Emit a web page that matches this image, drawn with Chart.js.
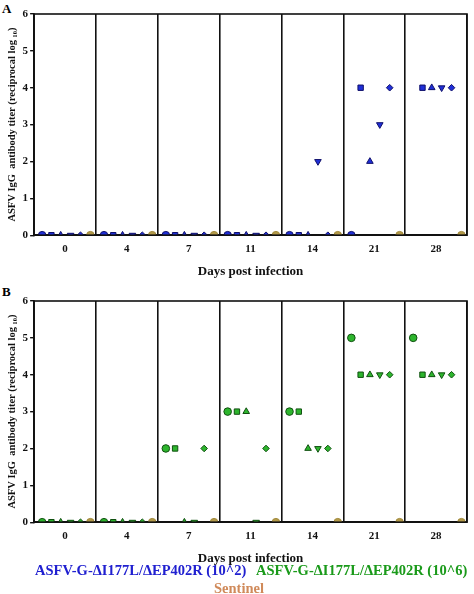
<!DOCTYPE html>
<html><head><meta charset="utf-8">
<script src="https://cdn.jsdelivr.net/npm/chart.js@4"></script>
<style>
body{margin:0;background:#fff;width:474px;height:594px;position:relative;font-family:"Liberation Serif",serif;overflow:hidden}
.pl{position:absolute;font-weight:bold;font-size:13px}
.box{position:absolute;left:0;width:474px;height:279px}
.leg{position:absolute;font-weight:bold;font-size:14.5px;white-space:nowrap}
</style></head><body>
<div class="pl" style="left:2px;top:1px">A</div>
<div class="box" style="top:0"><canvas id="a"></canvas></div>
<div class="pl" style="left:2px;top:284px">B</div>
<div class="box" style="top:287px"><canvas id="b"></canvas></div>
<div class="leg" style="left:35px;top:562px;color:#2020d0">ASFV-G-ΔI177L/ΔEP402R (10^2)</div>
<div class="leg" style="left:256px;top:562px;color:#1a9a1a">ASFV-G-ΔI177L/ΔEP402R (10^6)</div>
<div class="leg" style="left:214px;top:580px;color:#d08a5a">Sentinel</div>
<script>
const days = ["0","4","7","11","14","21","28"];
const yTicks = [0,1,2,3,4,5,6];
// Panel A (10^2) values per day: circle, square, triangle, down-triangle, diamond, sentinel
const aCircle   = [0,0,0,0,0,0,null];
const aSquare   = [0,0,0,0,0,4,4];
const aTriangle = [0,0,0,0,0,2,4];
const aDown     = [0,0,0,0,2,3,4];
const aDiamond  = [0,0,0,0,0,4,4];
const aSentinel = [0,0,0,0,0,0,0];
// Panel B (10^6)
const bCircle   = [0,0,2,3,3,5,5];
const bSquare   = [0,0,2,3,3,4,4];
const bTriangle = [0,0,0,3,2,4,4];
const bDown     = [0,0,0,0,2,4,4];
const bDiamond  = [0,0,2,2,2,4,4];
const bSentinel = [0,0,0,0,0,0,0];

const offsets = [0.13,0.28,0.43,0.59,0.75,0.91];
const styles = [['circle',0],['rect',0],['triangle',0],['triangle',180],['rectRot',0],['circle',0]];

function mk(id, series, fill, border){
  const ds = series.map((vals,k)=>({
    data: vals.map((v,i)=> v===null?null:{x:i+offsets[k], y:v}).filter(p=>p),
    pointStyle: styles[k][0], rotation: styles[k][1],
    pointRadius: k===4?3.3:3.8, showLine:false,
    backgroundColor: k===5?'#b39a4a':fill, borderColor: k===5?'#a08838':border, borderWidth:1
  }));
  new Chart(document.getElementById(id),{
    type:'scatter', data:{datasets:ds},
    options:{responsive:true, maintainAspectRatio:false, animation:false,
      layout:{padding:{top:14,right:3,left:2}},
      plugins:{legend:{display:false},tooltip:{enabled:false}},
      scales:{
        x:{type:'linear',min:0,max:7,
          ticks:{stepSize:0.5,autoSkip:false,maxRotation:0,padding:7,color:'#111',font:{family:'Liberation Serif',weight:'bold',size:11},
            callback:(v)=> (Math.abs(v%1-0.5)<0.01)? days[Math.floor(v)] : ''},
          grid:{drawTicks:false,lineWidth:1.6,color:(c)=> (c.tick && Number.isInteger(c.tick.value))?'#111':'rgba(0,0,0,0)'},
          border:{color:'#111',width:1.6},
          title:{display:true,text:'Days post infection',color:'#111',font:{family:'Liberation Serif',weight:'bold',size:13},padding:{top:1,bottom:0}}},
        y:{min:0,max:6,
          ticks:{stepSize:1,color:'#111',padding:2,font:{family:'Liberation Serif',weight:'bold',size:11}},
          grid:{drawOnChartArea:false,tickLength:4,color:'#111',lineWidth:1.4},
          border:{color:'#111',width:1.6},
          title:{display:true,text:'ASFV IgG  antibody titer (reciprocal log ₁₀)',color:'#111',font:{family:'Liberation Serif',weight:'bold',size:10.5},padding:{bottom:2}}}
      }},
    plugins:[{id:'frame',afterDraw(c){const a=c.chartArea,x=c.ctx;x.save();x.strokeStyle='#111';x.lineWidth=1.6;x.strokeRect(a.left,a.top,a.right-a.left,a.bottom-a.top);x.restore();}}]
  });
}
mk('a',[aCircle,aSquare,aTriangle,aDown,aDiamond,aSentinel],'#1f2fd8','#10106a');
mk('b',[bCircle,bSquare,bTriangle,bDown,bDiamond,bSentinel],'#2db52d','#105010');
</script></body></html>
